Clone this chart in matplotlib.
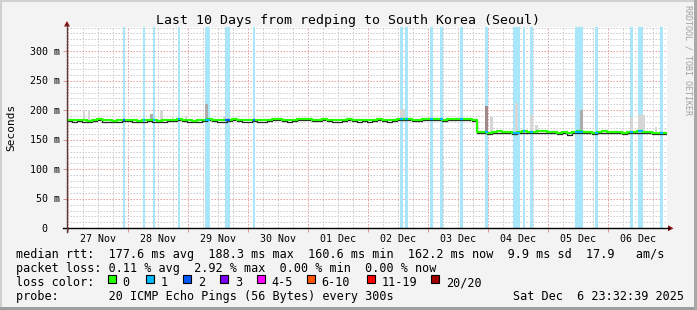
import matplotlib
matplotlib.use("Agg")
import matplotlib.pyplot as plt
import matplotlib.transforms as mtransforms
from matplotlib.patches import Rectangle, Polygon
from matplotlib.lines import Line2D
import numpy as np

W, H = 697, 310
MONO = "DejaVu Sans Mono"

# time axis in hours after 27 Nov 00:00 (graph: Nov 26 23:32:39 .. Dec 6 23:32:39)
t_first = -0.456
t_last = 239.544
med_t = np.arange(-0.5, 238, 2.0)

# median rtt (ms), one value per 2 h step
median_ms = [184, 183, 184, 183, 182, 184, 185, 183, 183, 182,
             183, 184, 184, 183, 182, 183, 184, 183, 182, 183,
             184, 184, 185, 184, 183, 182, 183, 184, 185, 184,
             183, 183, 184, 185, 184, 183, 183, 184, 183, 183,
             184, 185, 185, 184, 183, 184, 185, 186, 185, 184,
             184, 185, 184, 183, 183, 184, 185, 184, 183, 184,
             183, 184, 185, 184, 183, 184, 185, 186, 185, 184,
             184, 185, 186, 185, 185, 184, 185, 186, 186, 185,
             185, 184,
             163, 163, 162, 163, 164, 163, 163, 162, 163, 164,
             163, 163, 164, 164, 163, 163, 162, 163, 161, 163,
             164, 163, 163, 162, 163, 164, 163, 163, 163, 162,
             163, 163, 164, 163, 163, 162, 162, 162]

# packet loss events (hours) and lost pings
loss_start = [22.1, 30.1, 34.1, 44.1, 54.8, 62.8, 74.1, 132.8, 134.8, 144.8, 148.8,
              156.8, 166.8, 178.1, 182.1, 184.8, 202.8, 210.8, 224.8, 228.1, 236.8]
loss_end = [22.8, 30.8, 34.8, 44.8, 56.8, 64.8, 74.8, 133.8, 135.8, 145.8, 149.8,
            157.8, 167.8, 180.8, 182.8, 185.8, 205.8, 211.8, 225.8, 229.8, 237.8]
loss_count = [2, 1, 1, 1, 1, 2, 2, 1, 1, 1, 1,
              1, 1, 1, 1, 1, 1, 1, 1, 1, 1]

# smoke (spread of the pings above the median)
smoke_start = [6.1, 8.1, 32.8, 36.8, 41.4, 46.8, 54.8, 62.0, 132.8, 166.8, 168.8,
               178.8, 184.8, 186.8, 204.8, 224.8, 228.0, 234.8]
smoke_end = [6.8, 8.8, 33.8, 37.8, 42.1, 47.4, 56.1, 63.4, 134.8, 168.0, 170.0,
             180.0, 186.0, 188.0, 206.0, 226.0, 230.8, 235.6]
smoke_top = [200, 200, 194, 200, 189, 190, 211, 189, 202, 207, 189,
             212, 192, 175, 200, 189, 192, 172]
smoke_dark = [0, 0, 1, 0, 0, 0, 1, 0, 0, 2, 0,
              0, 0, 0, 1, 0, 0, 0]

day_labels = ["27 Nov", "28 Nov", "29 Nov", "30 Nov", "01 Dec",
              "02 Dec", "03 Dec", "04 Dec", "05 Dec", "06 Dec"]
y_ticks = [0, 50, 100, 150, 200, 250, 300]
y_tick_labels = ["0", "50 m", "100 m", "150 m", "200 m", "250 m", "300 m"]

loss_names = ["0", "1", "2", "3", "4-5", "6-10", "11-19", "20/20"]
loss_colors = ["#26ff00", "#00b8ff", "#0059ff", "#7e00ff",
               "#ff00ff", "#ff5500", "#ff0000", "#a10000"]

title = "Last 10 Days from redping to South Korea (Seoul)"
rtt_line = "median rtt:  177.6 ms avg  188.3 ms max  160.6 ms min  162.2 ms now  9.9 ms sd  17.9   am/s"
loss_line = "packet loss: 0.11 % avg  2.92 % max  0.00 % min  0.00 % now"
probe_line = "probe:       20 ICMP Echo Pings (56 Bytes) every 300s"
stamp = "Sat Dec  6 23:32:39 2025"


def fx(px):
    return px / W


def fy(py):
    return 1 - py / H


fig = plt.figure(figsize=(W / 100, H / 100), dpi=100, facecolor="#f3f3f3")
ax = fig.add_axes([fx(67), fy(228.3), 600 / W, 201.3 / H])
ax.set_facecolor("white")
ax.set_xlim(t_first, t_last)
ax.set_ylim(0, 341)
for s in ax.spines.values():
    s.set_visible(False)

# grid
dots = (0, (1.5, 1.5))
for h in range(0, 240, 6):
    c = "#e8a0a0" if h % 24 == 0 else "#cdcdcd"
    ax.axvline(h, color=c, lw=0.72, ls=dots, zorder=0.5)
for v in range(10, 341, 10):
    c = "#e8a0a0" if v % 50 == 0 else "#cdcdcd"
    ax.axhline(v, color=c, lw=0.72, ls=dots, zorder=0.5)

# loss bars
for s, e in zip(loss_start, loss_end):
    ax.axvspan(s, e, color="#aae6fa", lw=0, zorder=1)

# smoke
med_arr = np.array(median_ms, dtype=float)
shades = ["#d6d6d6", "#acacac", "#a08a8a"]
for s, e, top, d in zip(smoke_start, smoke_end, smoke_top, smoke_dark):
    i = np.searchsorted(med_t, s, side="right") - 1
    base = med_arr[i]
    ax.bar(s, top - base, bottom=base, width=e - s, align="edge",
           color=shades[d], lw=0, zorder=2)

# median line
tt = np.append(med_t, t_last)
yy = np.append(med_arr, med_arr[-1])
shift = mtransforms.offset_copy(ax.transData, fig=fig, x=0, y=-1.3, units="dots")
ax.plot(tt, yy, drawstyle="steps-post", color="#222222", lw=0.9, zorder=3,
        transform=shift)
ax.plot(tt, yy, drawstyle="steps-post", color=loss_colors[0], lw=1.6, zorder=4)
for s, e, n in zip(loss_start, loss_end, loss_count):
    i = np.searchsorted(med_t, s, side="right") - 1
    ax.plot([s, e], [med_arr[i], med_arr[i]], color=loss_colors[n], lw=1.6,
            solid_capstyle="butt", zorder=5)

# ticks
ax.set_xticks(np.arange(12, 240, 24))
ax.set_xticklabels([])
ax.set_xticks(np.arange(0, 240, 24), minor=True)
ax.tick_params(axis="x", which="major", length=0)
ax.tick_params(axis="x", which="minor", length=3, width=0.7, color="#e09090")
ax.set_yticks(y_ticks)
ax.set_yticklabels([])
ax.tick_params(axis="y", length=3, width=0.7, color="#e09090")

for h, lab in zip(np.arange(12, 240, 24), day_labels):
    fig.text(fx(67 + (h - t_first) * 2.5), fy(241.7), lab, ha="center", va="baseline",
             family=MONO, fontsize=7.2)

ytr = mtransforms.blended_transform_factory(fig.transFigure, ax.transData)
yoff = mtransforms.offset_copy(ytr, fig=fig, x=0, y=-3.6, units="dots")
for v, lab in zip(y_ticks, y_tick_labels):
    xr = 47.5 if v == 0 else 59.5
    ax.text(fx(xr), v, lab, transform=yoff, ha="right", va="baseline",
            family=MONO, fontsize=7.2, clip_on=False)

# axes lines and arrows
fig.add_artist(Line2D([fx(63), fx(669)], [fy(228.3), fy(228.3)], color="black", lw=1.0))
fig.add_artist(Line2D([fx(67), fx(67)], [fy(232), fy(25)], color="#5a3a3a", lw=1.0))
fig.add_artist(Polygon([[fx(668), fy(225.3)], [fx(673.5), fy(228.3)], [fx(668), fy(231.3)]],
                       closed=True, color="#8b1010", lw=0))
fig.add_artist(Polygon([[fx(64), fy(26.5)], [fx(67), fy(21)], [fx(70), fy(26.5)]],
                       closed=True, color="#8b1010", lw=0))

# texts
fig.text(fx(348), fy(24), title, ha="center", va="baseline", family=MONO, fontsize=9.5)
fig.text(fx(11.5), fy(127), "Seconds", rotation=90, ha="center", va="center",
         family=MONO, fontsize=8)
fig.text(fx(688), fy(5), "RRDTOOL / TOBI OETIKER", rotation=-90, ha="center", va="top",
         family=MONO, fontsize=6, color="#a0a0a0")

fig.text(fx(16), fy(258.3), rtt_line, ha="left", va="baseline", family=MONO, fontsize=8.5)
fig.text(fx(16), fy(272.2), loss_line, ha="left", va="baseline", family=MONO, fontsize=8.5)
fig.text(fx(16), fy(286.1), "loss color:", ha="left", va="baseline", family=MONO, fontsize=8.5)
box_x = [108, 145.5, 183, 220, 257, 307, 366.5, 431]
for bx, name, c in zip(box_x, loss_names, loss_colors):
    fig.add_artist(Rectangle((fx(bx), fy(283.3)), 8.3 / W, 8.3 / H, facecolor=c,
                             edgecolor="black", lw=0.8, transform=fig.transFigure))
    fig.text(fx(bx + 14.7), fy(286.1), name, ha="left", va="baseline", family=MONO, fontsize=8.5)
fig.text(fx(16), fy(299.8), probe_line, ha="left", va="baseline", family=MONO, fontsize=8.5)
fig.text(fx(513), fy(299.8), stamp, ha="left", va="baseline", family=MONO, fontsize=8.5)

# 3d frame
fig.add_artist(Rectangle((0, 1 - 2 / H), 1, 2 / H, color="#d0d0d0", lw=0, transform=fig.transFigure))
fig.add_artist(Rectangle((0, 0), 2 / W, 1, color="#d0d0d0", lw=0, transform=fig.transFigure))
fig.add_artist(Rectangle((0, 0), 1, 3 / H, color="#9e9e9e", lw=0, transform=fig.transFigure))
fig.add_artist(Rectangle((1 - 3 / W, 0), 3 / W, 1, color="#a8a8a8", lw=0, transform=fig.transFigure))

fig.savefig("out.png", dpi=100, facecolor=fig.get_facecolor())
